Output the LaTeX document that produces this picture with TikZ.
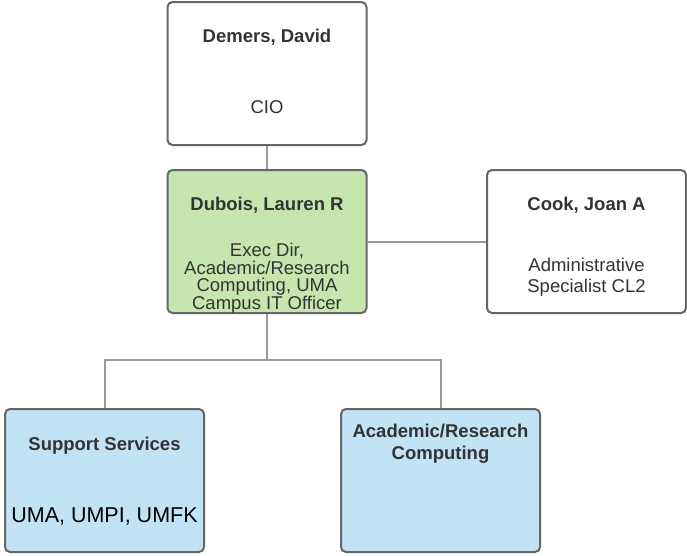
\documentclass[tikz,border=0pt]{standalone}
\usepackage{fontspec}
\setmainfont{Liberation Sans}
\definecolor{txt}{HTML}{333333}
\definecolor{bordc}{HTML}{666666}
\definecolor{linec}{HTML}{999999}
\definecolor{greenf}{HTML}{C5E6AE}
\definecolor{bluef}{HTML}{C2E3F5}
\begin{document}
\begin{tikzpicture}[x=1pt,y=-1pt,
  box/.style={draw=bordc,line width=2pt,rounded corners=5pt,inner sep=0pt,minimum width=199pt,minimum height=143pt},
  ttl/.style={anchor=base,inner sep=0pt,text=txt,font=\fontsize{18.5}{20}\selectfont\bfseries,align=center},
  bdy/.style={anchor=base,inner sep=0pt,text=txt,font=\fontsize{18.5}{17.5}\selectfont,align=center},
  conn/.style={draw=linec,line width=2pt}]
\useasboundingbox (0,0) rectangle (687,555);
\node[box,fill=white] (dem) at (267,73.5) {};
\node[box,fill=greenf] (dub) at (267,241.5) {};
\node[box,fill=white] (cook) at (586.5,241.5) {};
\node[box,fill=bluef] (sup) at (104.5,480.5) {};
\node[box,fill=bluef] (acad) at (440.5,480.5) {};
\draw[conn] (dem.south) -- (dub.north);
\draw[conn] (dub.east) -- (cook.west);
\coordinate (bj) at (267,360);
\draw[conn] (dub.south) -- (bj) -| (sup.north);
\draw[conn] (bj) -| (acad.north);
\node[ttl] (demt) at (267,42) {Demers, David};
\node[bdy] (demb) at (267,113) {CIO};
\node[ttl] (dubt) at (267,210) {Dubois, Lauren R};
\node[bdy,anchor=north] (dubb) at (267,243) {Exec Dir,\\Academic/Research\\Computing, UMA\\Campus IT Officer};
\node[ttl] (cookt) at (586.5,210) {Cook, Joan A};
\node[bdy,anchor=north,font=\fontsize{18.5}{20.5}\selectfont] (cookb) at (586.5,258) {Administrative\\Specialist CL2};
\node[ttl] (supt) at (104.5,450) {Support Services};
\node[bdy,text=black,font=\fontsize{21.5}{24}\selectfont] (supb) at (104.5,522) {UMA, UMPI, UMFK};
\node[ttl,anchor=north,font=\fontsize{18.5}{22}\selectfont\bfseries] (acadt) at (440.5,424) {Academic/Research\\Computing};
\end{tikzpicture}
\end{document}
